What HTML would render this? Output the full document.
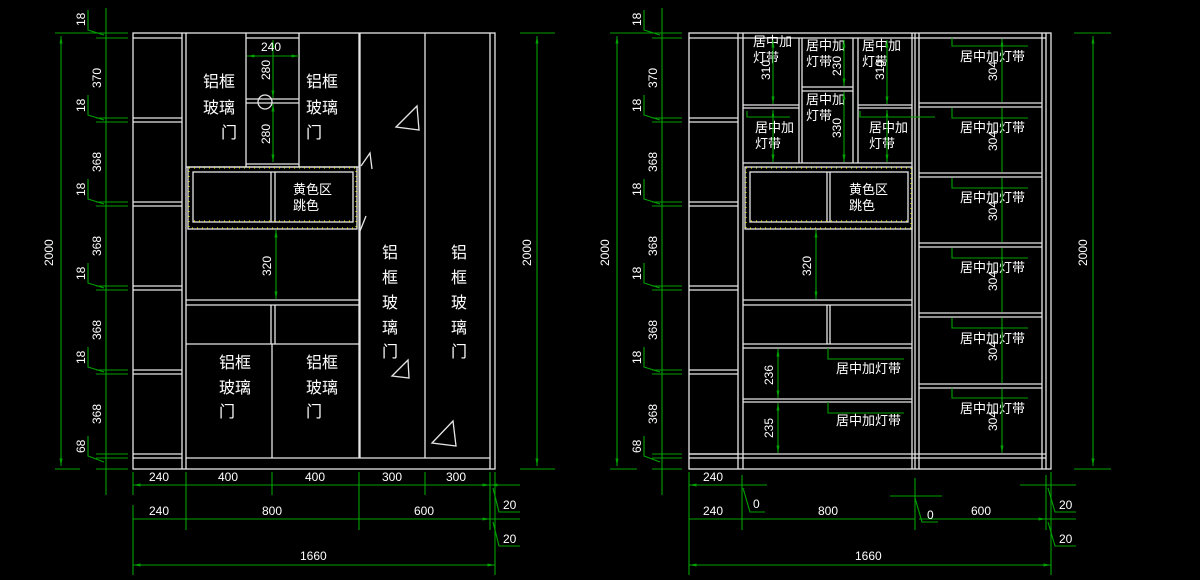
<!DOCTYPE html>
<html><head><meta charset="utf-8"><style>
html,body{margin:0;padding:0;background:#000;width:1200px;height:580px;overflow:hidden}
svg{display:block}
text{font-family:"Liberation Sans","Noto Sans CJK SC",sans-serif;fill:#fff}
.w{stroke:#e6e6e6;stroke-width:1.3;fill:none}
.g{stroke:#00a000;stroke-width:1.1;fill:none}
.y{stroke:#d8d800;stroke-width:1.2;fill:none;stroke-dasharray:1 4}
.d{font-size:12px}
.c{font-size:16px}
.s{font-size:13px}
</style></head><body>
<svg width="1200" height="580" viewBox="0 0 1200 580" xmlns="http://www.w3.org/2000/svg">
<defs>
<marker id="a" viewBox="0 0 10 10" refX="10" refY="5" markerWidth="7" markerHeight="7" orient="auto-start-reverse"><path d="M0,3L10,5L0,7z" fill="#00a000"/></marker>
</defs>

<!-- ================= LEFT DRAWING ================= -->
<g class="w">
<rect x="133" y="33" width="362" height="436"/>
<path d="M490 33V469M182 33V469M186 33V469"/>
<path d="M133 38H182M133 118H182M133 122H182M133 202H182M133 206H182M133 286H182M133 290H182M133 370H182M133 374H182M133 454H182M133 458H182"/>
<path d="M186 167H359M246 33V167M299 33V167M359 33V458M360 33V458M425 33V458"/>
<path d="M246 38H299M246 99H299M246 103H299M246 164H299"/>
<circle cx="265" cy="102" r="7"/>
<rect x="188" y="167" width="169" height="62"/>
<rect x="193" y="172" width="160" height="50"/>
<path d="M271 172V222M275 172V222"/>
<path d="M186 300H359M186 305H359M186 344H359M271 305V344M275 305V344M272 344V458M186 458H490"/>
<path d="M396 127L417 106L419 130Z M361 166L370 153L372 169 M360 231L366 216 M392 376L408 360L409 378Z M432 443L453 421L456 446Z"/>
</g>
<path class="y" d="M189 168H356V228H189Z M194 221H352"/>

<text class="c" x="203" y="87">铝框</text>
<text class="c" x="203" y="113">玻璃</text>
<text class="c" x="221" y="138">门</text>
<text class="c" x="306" y="87">铝框</text>
<text class="c" x="306" y="113">玻璃</text>
<text class="c" x="306" y="138">门</text>
<text class="c" x="382" y="258">铝</text><text class="c" x="382" y="283">框</text><text class="c" x="382" y="308">玻</text><text class="c" x="382" y="333">璃</text><text class="c" x="382" y="357">门</text>
<text class="c" x="451" y="258">铝</text><text class="c" x="451" y="283">框</text><text class="c" x="451" y="308">玻</text><text class="c" x="451" y="333">璃</text><text class="c" x="451" y="357">门</text>
<text class="c" x="219" y="368">铝框</text><text class="c" x="219" y="393">玻璃</text><text class="c" x="219" y="417">门</text>
<text class="c" x="306" y="368">铝框</text><text class="c" x="306" y="393">玻璃</text><text class="c" x="306" y="417">门</text>
<text class="s" x="293" y="194">黄色区</text><text class="s" x="293" y="210">跳色</text>

<!-- inner dims left -->
<g class="g">
<path d="M247 56H299" marker-start="url(#a)" marker-end="url(#a)"/>
<path d="M273 40V98" marker-start="url(#a)" marker-end="url(#a)"/>
<path d="M273 104V162" marker-start="url(#a)" marker-end="url(#a)"/>
<path d="M276 230V299" marker-start="url(#a)" marker-end="url(#a)"/>
</g>
<text class="d" x="261" y="51">240</text>
<text class="d" transform="translate(270,80) rotate(-90)">280</text>
<text class="d" transform="translate(270,144) rotate(-90)">280</text>
<text class="d" transform="translate(271,276) rotate(-90)">320</text>

<!-- left vertical dims -->
<g class="g">
<path d="M106 8V495"/>
<path d="M61 36V466" marker-start="url(#a)" marker-end="url(#a)"/>
<path d="M55 33H128M55 469H80M96 38H128M96 118H128M96 122H128M96 202H128M96 206H128M96 286H128M96 290H128M96 370H128M96 374H128M96 454H128M96 458H128M96 469H128"/>
<path d="M88 10V30L104 35M88 95V115L104 120M88 179V199L104 204M88 263V283L104 288M88 347V367L104 372M88 436V456L104 462"/>
<path d="M537 36V466" marker-start="url(#a)" marker-end="url(#a)"/>
<path d="M520 33H555M520 469H555"/>
</g>
<g class="d">
<text transform="translate(85,26) rotate(-90)">18</text>
<text transform="translate(101,88) rotate(-90)">370</text>
<text transform="translate(85,112) rotate(-90)">18</text>
<text transform="translate(101,172) rotate(-90)">368</text>
<text transform="translate(85,196) rotate(-90)">18</text>
<text transform="translate(101,256) rotate(-90)">368</text>
<text transform="translate(85,280) rotate(-90)">18</text>
<text transform="translate(101,340) rotate(-90)">368</text>
<text transform="translate(85,364) rotate(-90)">18</text>
<text transform="translate(101,424) rotate(-90)">368</text>
<text transform="translate(85,453) rotate(-90)">68</text>
<text transform="translate(53,266) rotate(-90)">2000</text>
<text transform="translate(531,266) rotate(-90)">2000</text>
</g>

<!-- left bottom dims -->
<g class="g">
<path d="M133 472V495M186 472V530M272 472V495M359 472V530M425 472V495M490 472V530M495 472V575M133 505V575"/>
<path d="M133 485H186M186 485H272M272 485H359M359 485H425M425 485H490" marker-start="url(#a)" marker-end="url(#a)"/>
<path d="M490 485H520M133 519H186M186 519H359M359 519H490" marker-start="url(#a)" marker-end="url(#a)"/>
<path d="M490 519H520"/>
<path d="M133 565H495" marker-start="url(#a)" marker-end="url(#a)"/>
<path d="M493 488L499 512H520M493 522L499 546H520"/>
</g>
<g class="d">
<text x="149" y="481">240</text><text x="218" y="481">400</text><text x="305" y="481">400</text><text x="382" y="481">300</text><text x="446" y="481">300</text>
<text x="149" y="515">240</text><text x="262" y="515">800</text><text x="414" y="515">600</text>
<text x="503" y="509">20</text><text x="503" y="543">20</text>
<text x="300" y="560">1660</text>
</g>

<!-- ================= RIGHT DRAWING ================= -->
<g class="w">
<rect x="689" y="33" width="362" height="436"/>
<path d="M738 33V469M743 33V469M912 33V469M915 33V469M919 33V469M1042 33V469M1046 33V469"/>
<path d="M689 38H1046"/>
<path d="M689 118H738M689 122H738M689 202H738M689 206H738M689 286H738M689 290H738M689 370H738M689 374H738M689 454H738"/>
<path d="M799 38V163M802 38V163M853 38V163M858 38V163"/>
<path d="M743 105H799M743 108H799M802 87H853M802 91H853M858 105H912M858 108H912M743 163H912"/>
<rect x="745" y="167" width="167" height="62"/>
<rect x="750" y="172" width="158" height="50"/>
<path d="M827 172V222M830 172V222"/>
<path d="M743 300H912M743 305H912M743 344H912M743 348H912M743 399H912M743 402H912M827 305V344M830 305V344"/>
<path d="M919 103H1042M919 107H1042M919 173H1042M919 177H1042M919 243H1042M919 247H1042M919 313H1042M919 317H1042M919 384H1042M919 388H1042"/>
<path d="M689 454H1046M689 458H1046"/>
</g>
<path class="y" d="M746 168H911V228H746Z M751 221H907"/>

<text class="s" x="753" y="46">居中加</text><text class="s" x="753" y="62">灯带</text>
<text class="s" x="806" y="50">居中加</text><text class="s" x="806" y="66">灯带</text>
<text class="s" x="862" y="50">居中加</text><text class="s" x="862" y="66">灯带</text>
<text class="s" x="806" y="104">居中加</text><text class="s" x="806" y="120">灯带</text>
<text class="s" x="755" y="132">居中加</text><text class="s" x="755" y="148">灯带</text>
<text class="s" x="869" y="132">居中加</text><text class="s" x="869" y="148">灯带</text>
<text class="s" x="849" y="194">黄色区</text><text class="s" x="849" y="210">跳色</text>
<text class="s" x="836" y="373">居中加灯带</text>
<text class="s" x="836" y="425">居中加灯带</text>
<text class="s" x="960" y="61">居中加灯带</text>
<text class="s" x="960" y="132">居中加灯带</text>
<text class="s" x="960" y="202">居中加灯带</text>
<text class="s" x="960" y="272">居中加灯带</text>
<text class="s" x="960" y="343">居中加灯带</text>
<text class="s" x="960" y="413">居中加灯带</text>

<g class="g">
<path d="M773 40V104" marker-start="url(#a)" marker-end="url(#a)"/>
<path d="M773 110V162" marker-start="url(#a)" marker-end="url(#a)"/>
<path d="M844 40V86" marker-start="url(#a)" marker-end="url(#a)"/>
<path d="M844 92V162" marker-start="url(#a)" marker-end="url(#a)"/>
<path d="M887 40V104" marker-start="url(#a)" marker-end="url(#a)"/>
<path d="M887 110V162" marker-start="url(#a)" marker-end="url(#a)"/>
<path d="M747 111V117H790M860 111V117H935"/>
<path d="M816 230V299" marker-start="url(#a)" marker-end="url(#a)"/>
<path d="M778 349V398" marker-start="url(#a)" marker-end="url(#a)"/>
<path d="M778 403V453" marker-start="url(#a)" marker-end="url(#a)"/>
<path d="M828 348V359H904M828 402V413H904"/>
<path d="M1002 39V102M1002 108V172M1002 178V242M1002 248V312M1002 318V383M1002 389V453" marker-start="url(#a)" marker-end="url(#a)"/>
<path d="M952 38V46H1028M952 108V118H1028M952 178V188H1028M952 248V258H1028M952 318V328H1028M952 388V398H1028"/>
</g>
<g class="d">
<text transform="translate(770,80) rotate(-90)">310</text>
<text transform="translate(841,76) rotate(-90)">230</text>
<text transform="translate(884,80) rotate(-90)">310</text>
<text transform="translate(841,138) rotate(-90)">330</text>
<text transform="translate(811,276) rotate(-90)">320</text>
<text transform="translate(773,385) rotate(-90)">236</text>
<text transform="translate(773,438) rotate(-90)">235</text>
<text transform="translate(997,81) rotate(-90)">304</text>
<text transform="translate(997,151) rotate(-90)">304</text>
<text transform="translate(997,221) rotate(-90)">304</text>
<text transform="translate(997,291) rotate(-90)">304</text>
<text transform="translate(997,361) rotate(-90)">304</text>
<text transform="translate(997,431) rotate(-90)">304</text>
</g>

<!-- right vertical dims -->
<g class="g">
<path d="M662 8V495"/>
<path d="M617 36V466" marker-start="url(#a)" marker-end="url(#a)"/>
<path d="M610 33H682M610 469H637M652 38H682M652 118H682M652 122H682M652 202H682M652 206H682M652 286H682M652 290H682M652 370H682M652 374H682M652 454H682M652 458H682M652 469H682"/>
<path d="M644 10V30L660 35M644 95V115L660 120M644 179V199L660 204M644 263V283L660 288M644 347V367L660 372M644 436V456L660 462"/>
<path d="M1093 36V466" marker-start="url(#a)" marker-end="url(#a)"/>
<path d="M1074 33H1111M1074 469H1111"/>
</g>
<g class="d">
<text transform="translate(641,26) rotate(-90)">18</text>
<text transform="translate(657,88) rotate(-90)">370</text>
<text transform="translate(641,112) rotate(-90)">18</text>
<text transform="translate(657,172) rotate(-90)">368</text>
<text transform="translate(641,196) rotate(-90)">18</text>
<text transform="translate(657,256) rotate(-90)">368</text>
<text transform="translate(641,280) rotate(-90)">18</text>
<text transform="translate(657,340) rotate(-90)">368</text>
<text transform="translate(641,364) rotate(-90)">18</text>
<text transform="translate(657,424) rotate(-90)">368</text>
<text transform="translate(641,453) rotate(-90)">68</text>
<text transform="translate(609,266) rotate(-90)">2000</text>
<text transform="translate(1087,266) rotate(-90)">2000</text>
</g>

<!-- right bottom dims -->
<g class="g">
<path d="M689 472V575M742 475V530M915 478V530M1046 475V530M1051 472V575"/>
<path d="M689 485H742M689 519H742M742 519H915M919 519H1046" marker-start="url(#a)" marker-end="url(#a)"/>
<path d="M742 485H767M890 496H942M1020 485H1076M1046 519H1076M1046 485H1076"/>
<path d="M689 565H1051" marker-start="url(#a)" marker-end="url(#a)"/>
<path d="M743 488L750 512H765M915 498L922 522H938M1048 488L1055 512H1076M1048 522L1055 546H1076"/>
</g>
<g class="d">
<text x="703" y="481">240</text><text x="753" y="508">0</text>
<text x="703" y="515">240</text><text x="818" y="515">800</text><text x="927" y="519">0</text><text x="971" y="515">600</text>
<text x="1059" y="509">20</text><text x="1059" y="543">20</text>
<text x="855" y="560">1660</text>
</g>
</svg>
</body></html>
